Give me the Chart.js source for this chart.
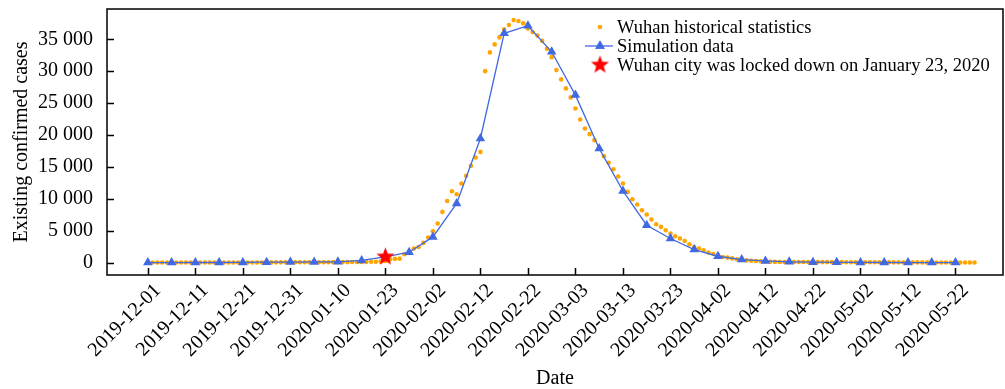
<!DOCTYPE html>
<html>
<head>
<meta charset="utf-8">
<script src="https://cdn.jsdelivr.net/npm/chart.js@4.4.1/dist/chart.umd.min.js"></script>
<style>
  html, body { margin: 0; padding: 0; background: #fff; }
  #wrap { width: 1005px; height: 389px; }
</style>
</head>
<body>
<div id="wrap"><canvas id="chart" width="1005" height="389"></canvas></div>
<script>
// --- data ---
// x unit = days since 2019-12-01, one tick label every 10 days
const xTickLabels = [
  '2019-12-01', '2019-12-11', '2019-12-21', '2019-12-31', '2020-01-10', '2020-01-23',
  '2020-02-02', '2020-02-12', '2020-02-22', '2020-03-03', '2020-03-13', '2020-03-23',
  '2020-04-02', '2020-04-12', '2020-04-22', '2020-05-02', '2020-05-12', '2020-05-22'
];
const yTicks = [0, 5000, 10000, 15000, 20000, 25000, 30000, 35000];

// Wuhan historical statistics, one value per day starting at day 1
const histStartDay = 1;
const histValues = [
  0, 0, 0, 0, 1, 1, 2, 2, 3, 3,
  4, 5, 5, 6, 7, 8, 9, 10, 12, 14,
  15, 17, 19, 21, 24, 27, 30, 33, 36, 40,
  42, 45, 48, 50, 52, 55, 58, 60, 63, 66,
  70, 75, 80, 90, 100, 110, 120, 130, 150, 260,
  520, 580, 610, 1300, 1650, 2200, 2450, 3080, 3920, 4910,
  6120, 7940, 9660, 11190, 10720, 12390, 13590, 15160, 16470, 17350,
  30010, 32950, 34200, 35300, 36550, 37230, 38010, 37860, 37500, 36710,
  36130, 35580, 34750, 33500, 32200, 30170, 28710, 27300, 25890, 24160,
  22430, 21020, 20130, 19190, 17900, 16680, 15630, 14620, 13480, 12390,
  11080, 9930, 9100, 8210, 7530, 6750, 6010, 5590, 5070, 4550,
  4130, 3770, 3390, 2870, 2450, 2200, 1930, 1570, 1350, 1150,
  880, 780, 650, 520, 420, 340, 290, 250, 200, 160,
  130, 100, 96, 92, 90, 86, 83, 80, 79, 75,
  73, 70, 69, 66, 63, 62, 58, 57, 55, 52,
  50, 49, 46, 44, 41, 40, 37, 35, 33, 31,
  30, 27, 25, 24, 21, 19, 18, 15, 14, 12,
  10, 9, 7, 6
];

// Simulation data, one value every 5 days from day 0
const simStep = 5;
const simValues = [
  0, 0, 10, 10, 20, 60, 80, 100, 120, 330,
  900, 1620, 4020, 9260, 19450, 35930, 37130, 33040, 26250, 17880,
  11230, 5850, 3770, 2040, 990, 470, 250, 120, 60, 30,
  20, 10, 5, 3, 2
];

const lockdownDay = 50;
const lockdownValue = 900;

const seriesLabels = [
  'Wuhan historical statistics',
  'Simulation data',
  'Wuhan city was locked down on January 23, 2020'
];

const ORANGE = '#FFA500';
const BLUE = '#4169E1';
const RED = '#FF0000';
const FONT = '"Liberation Serif", "DejaVu Serif", serif';

// red five-point star used as point style
function makeStar(r) {
  const c = document.createElement('canvas');
  const s = Math.ceil(r * 2 + 2);
  c.width = s; c.height = s;
  const g = c.getContext('2d');
  g.beginPath();
  for (let i = 0; i < 10; i++) {
    const rad = i % 2 === 0 ? r : r * 0.42;
    const a = -Math.PI / 2 + i * Math.PI / 5;
    const px = s / 2 + rad * Math.cos(a), py = s / 2 + rad * Math.sin(a);
    i === 0 ? g.moveTo(px, py) : g.lineTo(px, py);
  }
  g.closePath();
  g.fillStyle = RED;
  g.fill();
  return c;
}
const starImg = makeStar(9.5);

const histData = histValues.map((v, i) => ({ x: histStartDay + i, y: v }));
const simData = simValues.map((v, i) => ({ x: i * simStep, y: v }));
const starData = [{ x: lockdownDay, y: lockdownValue }];

// frame, inward ticks and the legend inside the plot
const framePlugin = {
  id: 'frame',
  afterDraw(chart) {
    const { ctx, chartArea: a, scales } = chart;
    ctx.save();
    ctx.strokeStyle = '#000';
    ctx.lineWidth = 1.5;
    ctx.strokeRect(a.left, a.top, a.right - a.left, a.bottom - a.top);
    ctx.beginPath();
    scales.x.ticks.forEach(t => {
      const px = Math.round(scales.x.getPixelForValue(t.value)) + 0.5;
      ctx.moveTo(px, a.bottom);
      ctx.lineTo(px, a.bottom - 7);
    });
    scales.y.ticks.forEach(t => {
      const py = Math.round(scales.y.getPixelForValue(t.value)) + 0.5;
      ctx.moveTo(a.left, py);
      ctx.lineTo(a.left + 7, py);
    });
    ctx.stroke();

    // legend
    const lx = 600, tx = 617, rows = [27, 46, 65];
    ctx.fillStyle = ORANGE;
    ctx.beginPath();
    ctx.arc(lx, rows[0], 2.3, 0, Math.PI * 2);
    ctx.fill();

    ctx.strokeStyle = BLUE;
    ctx.lineWidth = 1.3;
    ctx.beginPath();
    ctx.moveTo(585, rows[1]);
    ctx.lineTo(613, rows[1]);
    ctx.stroke();
    ctx.fillStyle = BLUE;
    Chart.helpers.drawPoint(ctx, { pointStyle: 'triangle', radius: 5.5, borderWidth: 0 }, lx, rows[1]);
    ctx.fill();

    ctx.drawImage(starImg, lx - starImg.width / 2, rows[2] - starImg.height / 2);

    ctx.fillStyle = '#000';
    ctx.font = '18.5px ' + FONT;
    ctx.textBaseline = 'middle';
    ctx.textAlign = 'left';
    seriesLabels.forEach((s, i) => ctx.fillText(s, tx, rows[i] + 1));
    ctx.restore();
  }
};

new Chart(document.getElementById('chart'), {
  type: 'scatter',
  data: {
    datasets: [
      {
        label: seriesLabels[2],
        data: starData,
        pointStyle: starImg,
        pointRadius: 10,
        order: 0,
      },
      {
        label: seriesLabels[1],
        data: simData,
        showLine: true,
        borderColor: BLUE,
        backgroundColor: BLUE,
        borderWidth: 1.3,
        pointStyle: 'triangle',
        pointRadius: 5.5,
        pointBorderWidth: 0,
        tension: 0,
        order: 1,
      },
      {
        label: seriesLabels[0],
        data: histData,
        backgroundColor: ORANGE,
        pointRadius: 2.3,
        pointBorderWidth: 0,
        order: 2,
      },
    ],
  },
  options: {
    responsive: false,
    animation: false,
    layout: { autoPadding: false, padding: { top: 9, right: 2, left: 0, bottom: 0 } },
    plugins: { legend: { display: false }, tooltip: { enabled: false } },
    scales: {
      x: {
        type: 'linear',
        min: -8.6,
        max: 180,
        afterBuildTicks: s => { s.ticks = xTickLabels.map((_, i) => ({ value: i * 10 })); },
        afterFit: s => { s.height = 114; s.paddingLeft = 0; s.paddingRight = 0; },
        grid: { display: false, drawTicks: false },
        border: { display: false },
        ticks: {
          autoSkip: false,
          minRotation: 45,
          maxRotation: 45,
          padding: 4,
          labelOffset: 10,
          color: '#000',
          font: { family: FONT, size: 20 },
          callback: v => xTickLabels[Math.round(v / 10)],
        },
        title: {
          display: true,
          text: 'Date',
          color: '#000',
          font: { family: FONT, size: 20, lineHeight: 1 },
          padding: { top: 0, bottom: 0 },
        },
      },
      y: {
        min: -1950,
        max: 39750,
        afterBuildTicks: s => { s.ticks = yTicks.map(v => ({ value: v })); },
        afterFit: s => { s.width = 107; s.paddingTop = 0; s.paddingBottom = 0; },
        grid: { display: false, drawTicks: false },
        border: { display: false },
        ticks: {
          padding: 14,
          color: '#000',
          font: { family: FONT, size: 20 },
          callback: v => String(v).replace(/\B(?=(\d{3})+(?!\d))/g, ' '),
        },
        title: {
          display: true,
          text: 'Existing confirmed cases',
          color: '#000',
          font: { family: FONT, size: 20, lineHeight: 1.2 },
          padding: { top: 10, bottom: 0 },
        },
      },
    },
  },
  plugins: [framePlugin],
});
</script>
</body>
</html>
